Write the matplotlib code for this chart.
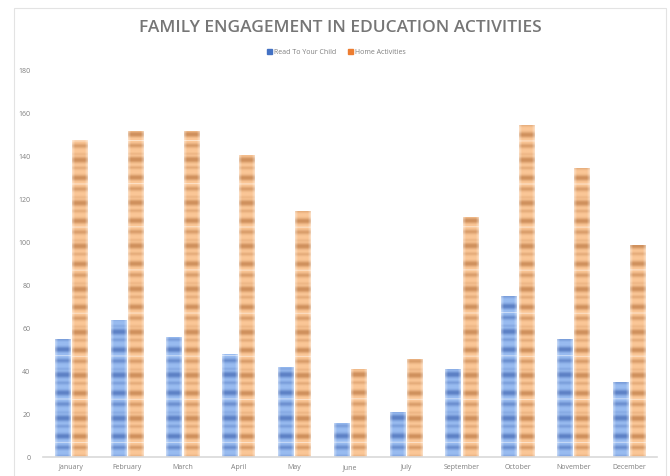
import matplotlib
matplotlib.use('Agg')
import matplotlib.pyplot as plt
import numpy as np
from matplotlib.patches import Patch, Rectangle

plt.rcParams['font.family'] = ['Open Sans', 'DejaVu Sans']

# データ（8月なし）
months = ['January', 'February', 'March', 'April', 'May', 'June', 'July',
          'September', 'October', 'November', 'December']
read_to_child = [55, 64, 56, 48, 42, 16, 21, 41, 75, 55, 35]
home_activities = [148, 152, 152, 141, 115, 41, 46, 112, 155, 135, 99]
yticks = [0, 20, 40, 60, 80, 100, 120, 140, 160, 180]

# 縞模様のテクスチャ（Excel風の塗りつぶし）: 1周期 ~43px
stripe = np.array([.3, .6, .85, .9, .85, .6, .3, .1, 0, .1, .3, .45, .3, .1, 0, 0, 0, .1,
                   .3, .6, .85, .9, .8, .5, .2, 0, 0, -.5, 0, .1, .3, .55, .7, .55,
                   .3, .1, 0, 0, 0, .1, .25, .2, .1])

def texture(light, dark, rows=386, cols=12):
    light = np.array(light) / 255
    dark = np.array(dark) / 255
    t = np.resize(stripe, rows)[:, None, None]
    white = np.clip(-t, 0, 1)
    t = np.clip(t, 0, 1)
    img = light * (1 - t) + dark * t
    img = img * (1 - white) + white
    img = np.repeat(img, cols, axis=1)
    edge = np.zeros(cols)
    edge[0] = edge[-1] = 0.4
    edge[1] = edge[-2] = 0.15
    img = img * (1 - edge[None, :, None]) + edge[None, :, None]
    return img

blue_tex = texture((152, 187, 240), (86, 122, 192))
orange_tex = texture((250, 198, 150), (202, 138, 86))

fig = plt.figure(figsize=(6.7, 4.76), dpi=100)
ax = fig.add_axes([0.0642, 0.0389, 0.9164, 0.812])

x = np.arange(len(months))
w = 0.27
off = 0.155
bars_b = ax.bar(x - off, read_to_child, width=w, color='#8fb2ea', linewidth=0)
bars_o = ax.bar(x + off, home_activities, width=w, color='#f4bb88', linewidth=0)

for bars, tex in [(bars_b, blue_tex), (bars_o, orange_tex)]:
    for b in bars:
        x0 = b.get_x()
        im = ax.imshow(tex, extent=[x0, x0 + b.get_width(), 0, 180],
                       aspect='auto', interpolation='bilinear', zorder=2)
        im.set_clip_path(b)

ax.set_xlim(-0.5, len(months) - 0.5)
ax.set_ylim(0, 180)
ax.set_yticks(yticks)
ax.set_xticks(x)
ax.set_xticklabels(months)
ax.tick_params(axis='both', length=0, labelsize=5, labelcolor='#7f7f7f')
ax.tick_params(axis='y', pad=9)
ax.tick_params(axis='x', pad=5)
for s in ['top', 'right', 'left']:
    ax.spines[s].set_visible(False)
ax.spines['bottom'].set_color('#d9d9d9')
ax.spines['bottom'].set_linewidth(1.2)

fig.text(0.508, 0.941, 'FAMILY ENGAGEMENT IN EDUCATION ACTIVITIES',
         ha='center', va='center', fontsize=12.5, fontweight='semibold',
         color='#767676')

handles = [Patch(color='#4472c4', label='Read To Your Child'),
           Patch(color='#ed7d31', label='Home Activities')]
fig.legend(handles=handles, loc='center', bbox_to_anchor=(0.502, 0.889), ncol=2,
           frameon=False, fontsize=5, labelcolor='#7f7f7f', handlelength=0.7,
           handleheight=0.7, handletextpad=0.3, columnspacing=1.8)

fig.patches.append(Rectangle((14 / 670, -0.01), 652 / 670, 1.0 - 8 / 476 + 0.01,
                             transform=fig.transFigure, fill=False,
                             edgecolor='#e3e3e3', linewidth=0.8))

fig.savefig('out.png', dpi=100)
